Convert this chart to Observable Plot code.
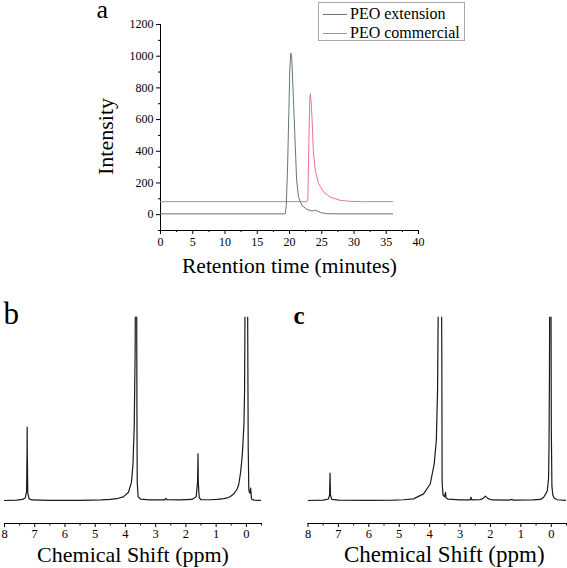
<!DOCTYPE html>
<html>
<head>
<meta charset="utf-8">
<script src="https://cdn.jsdelivr.net/npm/d3@7"></script>
<script src="https://cdn.jsdelivr.net/npm/@observablehq/plot@0.6"></script>
<style>
  html, body { margin: 0; padding: 0; background: #fff; }
  #root { position: relative; width: 567px; height: 568px; background: #fff; font-family: "Liberation Serif", "Times New Roman", serif; color: #000; overflow: hidden; }
  .abs { position: absolute; }
  #legend { position: absolute; left: 318px; top: 2px; width: 147px; height: 39px; box-sizing: border-box; border: 1px solid #a8a8a8; background: #fff; font-size: 16px; }
  .row { position: absolute; left: 4px; height: 18px; display: flex; align-items: center; }
  .sw { width: 24px; height: 0; border-top: 1px solid; margin-right: 3px; }
</style>
</head>
<body>
<div id="root"></div>
<script>
// ---------- Panel a: GPC traces (retention time, min; intensity) ----------
const gpcSeries = ["PEO extension", "PEO commercial"];
const gpcExtension = [
  [0, 5], [10, 5], [19.0, 5], [19.35, 6], [19.5, 60], [19.7, 300], [19.9, 650], [20.05, 920],
  [20.2, 1020], [20.35, 990], [20.6, 740], [20.9, 430], [21.1, 220], [21.4, 110], [21.9, 60],
  [22.7, 33], [23.5, 23], [24.0, 27], [24.4, 22], [24.8, 13], [25.8, 6], [28, 5], [36, 5]
];
const gpcCommercial = [
  [0, 82], [22.7, 82], [22.85, 100], [23.0, 450], [23.15, 740], [23.25, 763], [23.4, 680],
  [23.55, 560], [23.7, 400], [24.0, 280], [24.5, 196], [25.3, 143], [26.3, 111], [27.9, 90],
  [29.4, 84], [31, 82], [36, 82]
];
const gpcXTicks = [0, 5, 10, 15, 20, 25, 30, 35, 40];
const gpcXMinor = [2.5, 7.5, 12.5, 17.5, 22.5, 27.5, 32.5, 37.5];
const gpcYTicks = [0, 200, 400, 600, 800, 1000, 1200];
const gpcYMinor = [-100, 100, 300, 500, 700, 900, 1100];

// ---------- Panels b, c: 1H NMR spectra (ppm, relative intensity) ----------
const nmrB = [
  [8.0, 0], [7.6, 0.002], [7.4, 0.006], [7.31, 0.015], [7.27, 0.05], [7.255, 0.25], [7.25, 0.40],
  [7.245, 0.25], [7.23, 0.04], [7.19, 0.01], [7.1, 0.003], [6.5, 0.001], [5.5, 0.001], [4.8, 0.003],
  [4.5, 0.006], [4.24, 0.012], [4.07, 0.02], [3.9, 0.045], [3.8, 0.1], [3.75, 0.2], [3.71, 0.4],
  [3.68, 0.8], [3.665, 1.3], [3.65, 1.5], [3.63, 1.2], [3.62, 0.5], [3.61, 0.1], [3.58, 0.02],
  [3.5, 0.008], [3.2, 0.003], [2.7, 0.003], [2.66, 0.012], [2.63, 0.004], [2.2, 0.003], [1.8, 0.006],
  [1.66, 0.02], [1.615, 0.1], [1.60, 0.255], [1.59, 0.1], [1.56, 0.015], [1.5, 0.004], [1.2, 0.004],
  [0.97, 0.006], [0.75, 0.01], [0.64, 0.014], [0.53, 0.022], [0.42, 0.035], [0.3, 0.064],
  [0.25, 0.09], [0.19, 0.155], [0.14, 0.24], [0.12, 0.29], [0.08, 0.42], [0.06, 0.6], [0.05, 0.9],
  [0.04, 1.3], [0.02, 1.6], [-0.02, 1.6], [-0.04, 1.1], [-0.06, 0.3], [-0.08, 0.06], [-0.1, 0.045],
  [-0.125, 0.04], [-0.14, 0.067], [-0.155, 0.04], [-0.17, 0.008], [-0.25, 0.002], [-0.5, 0]
];
const nmrC = [
  [8.0, 0], [7.5, 0.002], [7.33, 0.008], [7.29, 0.03], [7.275, 0.149], [7.26, 0.03], [7.22, 0.006],
  [7.0, 0.002], [6.0, 0.001], [5.2, 0.002], [4.86, 0.004], [4.53, 0.009], [4.2, 0.036], [3.98, 0.09],
  [3.85, 0.2], [3.78, 0.33], [3.74, 0.6], [3.72, 1.0], [3.70, 1.5], [3.62, 1.5], [3.60, 0.8],
  [3.59, 0.1], [3.56, 0.03], [3.51, 0.02], [3.48, 0.045], [3.46, 0.015], [3.4, 0.008], [3.0, 0.003],
  [2.67, 0.003], [2.64, 0.018], [2.61, 0.003], [2.35, 0.004], [2.25, 0.01], [2.17, 0.024],
  [2.08, 0.01], [1.95, 0.003], [1.4, 0.002], [1.29, 0.006], [1.25, 0.002], [0.6, 0.003],
  [0.35, 0.006], [0.25, 0.018], [0.17, 0.04], [0.13, 0.055], [0.09, 0.12], [0.075, 0.3],
  [0.06, 0.7], [0.045, 1.5], [0.015, 1.5], [0.0, 0.4], [-0.02, 0.08], [-0.05, 0.03],
  [-0.1, 0.012], [-0.2, 0.004], [-0.47, 0.001]
];
const nmrTicks = [8, 7, 6, 5, 4, 3, 2, 1, 0];
const nmrMinor = [7.5, 6.5, 5.5, 4.5, 3.5, 2.5, 1.5, 0.5, -0.5];

const panelLabels = ["a", "b", "c"];
const xTitleA = "Retention time (minutes)";
const yTitleA = "Intensity";
const xTitleNMR = "Chemical Shift (ppm)";

// ---------- styling ----------
const serif = "Liberation Serif, Times New Roman, serif";
const grayColor = "#66767c";
const pinkColor = "#ec6fa3";
const inkColor = "#1a1a1a";
const intFmt = d3.format("d");

const root = document.getElementById("root");
function place(el, left, top) {
  const d = document.createElement("div");
  d.className = "abs";
  d.style.left = left + "px";
  d.style.top = top + "px";
  d.appendChild(el);
  root.appendChild(d);
}

// Panel a
const plotA = Plot.plot({
  width: 567, height: 290,
  marginLeft: 160, marginRight: 149, marginTop: 24, marginBottom: 60,
  x: {domain: [0, 40]},
  y: {domain: [-100, 1200]},
  style: {fontFamily: serif, fontSize: "12px", color: "#000", background: "transparent", overflow: "visible"},
  marks: [
    Plot.ruleX([0], {stroke: "#000"}),
    Plot.ruleY([-100], {stroke: "#000"}),
    Plot.axisY(gpcYTicks, {tickSize: 4, tickPadding: 3, label: null, fontSize: 12, fontFamily: serif, tickFormat: intFmt}),
    Plot.axisY(gpcYMinor, {tickSize: 2, fill: "none", label: null}),
    Plot.axisX(gpcXTicks, {tickSize: 4, tickPadding: 3, label: null, fontSize: 12, fontFamily: serif, tickFormat: intFmt}),
    Plot.axisX(gpcXMinor, {tickSize: 2, fill: "none", label: null}),
    Plot.line(gpcCommercial, {x: d => d[0], y: d => d[1], stroke: pinkColor, strokeWidth: 1}),
    Plot.line(gpcExtension, {x: d => d[0], y: d => d[1], stroke: grayColor, strokeWidth: 1}),
    Plot.text([panelLabels[0]], {frameAnchor: "top-left", textAnchor: "start", lineAnchor: "bottom", dx: -64, dy: -7, fontSize: 26, fontFamily: serif}),
    Plot.text([xTitleA], {frameAnchor: "bottom", textAnchor: "middle", lineAnchor: "bottom", dy: 42, fontSize: 21.5, fontFamily: serif}),
    Plot.text([yTitleA], {frameAnchor: "left", textAnchor: "middle", lineAnchor: "bottom", rotate: -90, dx: -48, dy: 9, fontSize: 22, fontFamily: serif})
  ]
});
place(plotA, 0, 0);

// NMR panels
function nmrPlot(data, label, opts) {
  return Plot.plot({
    width: opts.width, height: 278,
    marginLeft: opts.ml, marginRight: opts.mr, marginTop: 26.7, marginBottom: 45,
    x: {domain: [8, -0.5]},
    y: {domain: [-0.1255, 1], axis: null},
    style: {fontFamily: serif, fontSize: "13px", color: "#000", background: "transparent", overflow: "visible"},
    marks: [
      Plot.ruleY([-0.1255], {stroke: "#000"}),
      Plot.axisX(nmrTicks, {tickSize: 4, tickPadding: 2, label: null, fontSize: 12.5, fontFamily: serif, tickFormat: intFmt}),
      Plot.axisX(nmrMinor, {tickSize: 2.5, fill: "none", label: null}),
      Plot.line(data, {x: d => d[0], y: d => d[1], stroke: inkColor, strokeWidth: 1.2, clip: true}),
      Plot.text([label], {frameAnchor: "top-left", textAnchor: "start", lineAnchor: "bottom", dx: opts.ldx, dy: 6.3, fontSize: opts.lfs, fontWeight: opts.lfw, fontFamily: serif}),
      Plot.text([xTitleNMR], {frameAnchor: "bottom", textAnchor: "middle", lineAnchor: "bottom", dx: opts.tdx, dy: 38, fontSize: opts.tfs, fontFamily: serif})
    ]
  });
}
place(nmrPlot(nmrB, panelLabels[1], {width: 283, ml: 4, mr: 22, ldx: -1, lfs: 31, lfw: "normal", tdx: 0, tfs: 22}), 0, 290);
place(nmrPlot(nmrC, panelLabels[2], {width: 284, ml: 24.5, mr: 1, ldx: -14.5, lfs: 25, lfw: "bold", tdx: 7, tfs: 23}), 283, 290);

// Legend (panel a)
const legend = document.createElement("div");
legend.id = "legend";
const legendColors = [grayColor, pinkColor];
gpcSeries.forEach((name, i) => {
  const row = document.createElement("div");
  row.className = "row";
  row.style.top = (2 + i * 19) + "px";
  const sw = document.createElement("span");
  sw.className = "sw";
  sw.style.borderTopColor = legendColors[i];
  const tx = document.createElement("span");
  tx.textContent = name;
  row.appendChild(sw);
  row.appendChild(tx);
  legend.appendChild(row);
});
root.appendChild(legend);
</script>
</body>
</html>
